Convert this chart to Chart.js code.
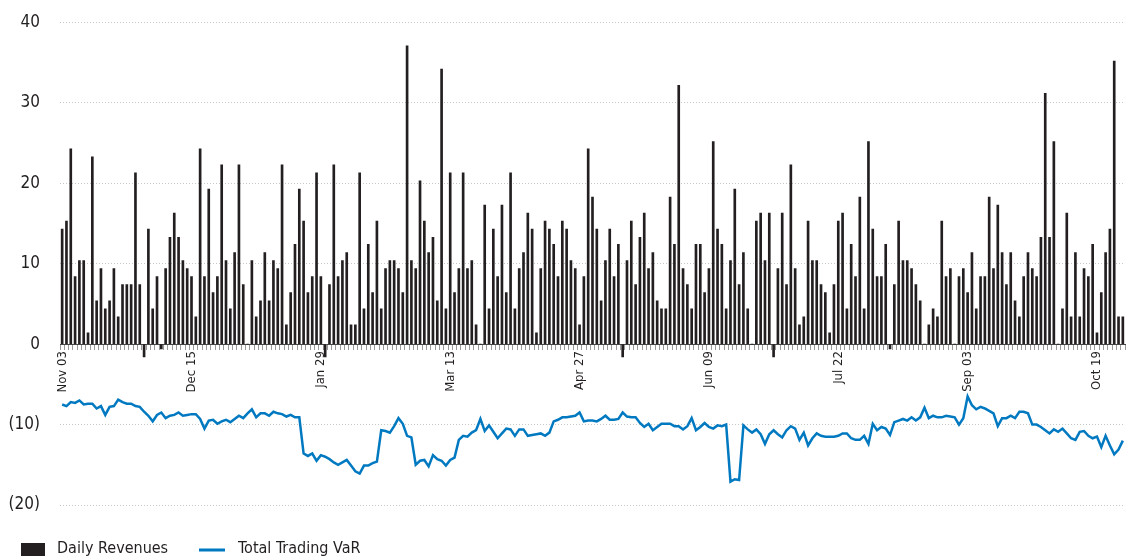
<!DOCTYPE html>
<html>
<head>
<meta charset="utf-8">
<script src="https://cdn.jsdelivr.net/npm/chart.js@4"></script>
<style>
  html, body { margin: 0; padding: 0; background: #fff; }
</style>
</head>
<body>
<canvas id="myChart" width="1126" height="559"></canvas>
<script>
// one label every 30 trading days
var tickLabels = ['Nov 03', 'Dec 15', 'Jan 29', 'Mar 13', 'Apr 27', 'Jun 09', 'Jul 22', 'Sep 03', 'Oct 19'];

var dailyRevenues = [
  14.3, 15.3, 24.3, 8.4, 10.4, 10.4, 1.4, 23.3, 5.4, 9.4,
  4.4, 5.4, 9.4, 3.4, 7.4, 7.4, 7.4, 21.3, 7.4, -1.6,
  14.3, 4.4, 8.4, -0.6, 9.4, 13.3, 16.3, 13.3, 10.4, 9.4,
  8.4, 3.4, 24.3, 8.4, 19.3, 6.4, 8.4, 22.3, 10.4, 4.4,
  11.4, 22.3, 7.4, 0, 10.4, 3.4, 5.4, 11.4, 5.4, 10.4,
  9.4, 22.3, 2.4, 6.4, 12.4, 19.3, 15.3, 6.4, 8.4, 21.3,
  8.4, -1.6, 7.4, 22.3, 8.4, 10.4, 11.4, 2.4, 2.4, 21.3,
  4.4, 12.4, 6.4, 15.3, 4.4, 9.4, 10.4, 10.4, 9.4, 6.4,
  37.1, 10.4, 9.4, 20.3, 15.3, 11.4, 13.3, 5.4, 34.2, 4.4,
  21.3, 6.4, 9.4, 21.3, 9.4, 10.4, 2.4, 0, 17.3, 4.4,
  14.3, 8.4, 17.3, 6.4, 21.3, 4.4, 9.4, 11.4, 16.3, 14.3,
  1.4, 9.4, 15.3, 14.3, 12.4, 8.4, 15.3, 14.3, 10.4, 9.4,
  2.4, 8.4, 24.3, 18.3, 14.3, 5.4, 10.4, 14.3, 8.4, 12.4,
  -1.6, 10.4, 15.3, 7.4, 13.3, 16.3, 9.4, 11.4, 5.4, 4.4,
  4.4, 18.3, 12.4, 32.2, 9.4, 7.4, 4.4, 12.4, 12.4, 6.4,
  9.4, 25.2, 14.3, 12.4, 4.4, 10.4, 19.3, 7.4, 11.4, 4.4,
  0, 15.3, 16.3, 10.4, 16.3, -1.6, 9.4, 16.3, 7.4, 22.3,
  9.4, 2.4, 3.4, 15.3, 10.4, 10.4, 7.4, 6.4, 1.4, 7.4,
  15.3, 16.3, 4.4, 12.4, 8.4, 18.3, 4.4, 25.2, 14.3, 8.4,
  8.4, 12.4, -0.6, 7.4, 15.3, 10.4, 10.4, 9.4, 7.4, 5.4,
  0, 2.4, 4.4, 3.4, 15.3, 8.4, 9.4, 0, 8.4, 9.4,
  6.4, 11.4, 4.4, 8.4, 8.4, 18.3, 9.4, 17.3, 11.4, 7.4,
  11.4, 5.4, 3.4, 8.4, 11.4, 9.4, 8.4, 13.3, 31.2, 13.3,
  25.2, 0, 4.4, 16.3, 3.4, 11.4, 3.4, 9.4, 8.4, 12.4,
  1.4, 6.4, 11.4, 14.3, 35.2, 3.4, 3.4
];

var tradingVaR = [
  -7.5, -7.7, -7.2, -7.3, -7.0, -7.5, -7.4, -7.4, -8.0, -7.7,
  -8.8, -7.8, -7.7, -6.9, -7.2, -7.4, -7.4, -7.7, -7.8, -8.4,
  -8.9, -9.6, -8.8, -8.5, -9.2, -8.9, -8.8, -8.5, -8.9, -8.8,
  -8.7, -8.7, -9.3, -10.5, -9.5, -9.4, -9.9, -9.6, -9.4, -9.7,
  -9.3, -8.9, -9.2, -8.6, -8.1, -9.1, -8.6, -8.6, -8.9, -8.4,
  -8.6, -8.7, -9.0, -8.8, -9.1, -9.1, -13.6, -13.9, -13.6, -14.5,
  -13.8, -14.0, -14.3, -14.7, -15.0, -14.7, -14.4, -15.1, -15.8, -16.1,
  -15.1, -15.1, -14.8, -14.6, -10.7, -10.8, -11.0, -10.2, -9.2, -9.9,
  -11.4, -11.6, -15.0, -14.5, -14.4, -15.2, -13.8, -14.3, -14.5, -15.1,
  -14.4, -14.1, -11.9, -11.4, -11.5, -11.0, -10.7, -9.3, -10.8, -10.1,
  -10.9, -11.7, -11.1, -10.5, -10.6, -11.4, -10.6, -10.6, -11.4, -11.3,
  -11.2, -11.1, -11.4, -11.0, -9.6, -9.4, -9.1, -9.1, -9.0, -8.9,
  -8.5, -9.6, -9.5, -9.5, -9.6, -9.3, -8.9, -9.4, -9.4, -9.3,
  -8.5, -9.0, -9.1, -9.1, -9.8, -10.3, -9.9, -10.7, -10.3, -9.9,
  -9.9, -9.9, -10.2, -10.2, -10.6, -10.2, -9.2, -10.7, -10.3, -9.8,
  -10.3, -10.5, -10.1, -10.2, -10.0, -17.1, -16.8, -16.9, -10.1, -10.6,
  -11.0, -10.6, -11.2, -12.4, -11.2, -10.7, -11.2, -11.6, -10.7, -10.2,
  -10.5, -11.9, -11.0, -12.6, -11.7, -11.1, -11.4, -11.5, -11.5, -11.5,
  -11.4, -11.1, -11.1, -11.7, -11.9, -11.9, -11.4, -12.4, -9.9, -10.7,
  -10.3, -10.5, -11.3, -9.7, -9.5, -9.3, -9.5, -9.1, -9.5, -9.1,
  -7.9, -9.2, -8.9, -9.1, -9.1, -8.9, -9.0, -9.1, -10.0, -9.2,
  -6.5, -7.6, -8.1, -7.8, -8.0, -8.3, -8.6, -10.2, -9.2, -9.2,
  -8.9, -9.2, -8.4, -8.4, -8.6, -10.0, -10.0, -10.3, -10.7, -11.1,
  -10.6, -10.9, -10.5, -11.1, -11.7, -11.9, -10.9, -10.8, -11.4, -11.7,
  -11.5, -12.8, -11.4, -12.6, -13.7, -13.1, -12.0
];

var labels = dailyRevenues.map(function (v, i) {
  return i % 30 === 0 ? tickLabels[i / 30] : '';
});

var fontFamily = "'Liberation Sans Narrow', 'DejaVu Sans Condensed', 'Liberation Sans', sans-serif";
Chart.defaults.font.family = fontFamily;
Chart.defaults.color = '#231f20';

// legend row under the plot, left aligned
var bottomLegend = {
    id: 'bottomLegend',
    afterDraw: function (chart) {
        var c = chart.ctx;
        var ds = chart.data.datasets;
        c.save();
        c.font = '16px ' + fontFamily;
        c.textBaseline = 'middle';
        c.textAlign = 'left';
        c.fillStyle = ds[0].backgroundColor;
        c.fillRect(21, 543, 24, 13);
        c.fillStyle = '#231f20';
        c.fillText(ds[0].label, 57, 549);
        c.strokeStyle = ds[1].borderColor;
        c.lineWidth = 3;
        c.beginPath();
        c.moveTo(199, 550);
        c.lineTo(225, 550);
        c.stroke();
        c.fillText(ds[1].label, 238, 549);
        c.restore();
    }
};

var ctx = document.getElementById('myChart').getContext('2d');
var myChart = new Chart(ctx, {
    type: 'bar',
    data: {
        labels: labels,
        datasets: [{
            type: 'bar',
            label: 'Daily Revenues',
            data: dailyRevenues,
            backgroundColor: '#231f20',
            borderWidth: 0,
            barThickness: 2
        }, {
            type: 'line',
            label: 'Total Trading VaR',
            data: tradingVaR,
            borderColor: '#0079c1',
            backgroundColor: '#0079c1',
            borderWidth: 2.5,
            pointRadius: 0,
            tension: 0,
            fill: false
        }]
    },
    plugins: [bottomLegend],
    options: {
        responsive: false,
        animation: false,
        layout: {
            padding: { left: 8, right: 1, top: 22.5, bottom: 54 }
        },
        plugins: {
            legend: { display: false },
            tooltip: { enabled: false }
        },
        scales: {
            x: {
                position: { y: 0 },
                offset: true,
                afterFit: function (scale) {
                    scale.paddingLeft = 0;
                    scale.paddingRight = 0;
                },
                grid: {
                    drawOnChartArea: false,
                    drawTicks: true,
                    tickLength: 5,
                    tickColor: '#999999'
                },
                border: { color: '#444444', width: 1 },
                ticks: {
                    autoSkip: false,
                    maxRotation: 90,
                    minRotation: 90,
                    padding: 2,
                    font: { size: 13 }
                }
            },
            y: {
                min: -20,
                max: 40,
                afterFit: function (scale) { scale.width = 52; },
                grid: {
                    color: '#c8c8c8',
                    drawTicks: true,
                    tickLength: 20,
                    tickColor: 'rgba(0,0,0,0)'
                },
                border: { display: false, dash: [1, 2] },
                ticks: {
                    stepSize: 10,
                    padding: 0,
                    font: { size: 17 },
                    callback: function (v) { return v < 0 ? '(' + (-v) + ')' : v; }
                }
            }
        }
    }
});
</script>
</body>
</html>
